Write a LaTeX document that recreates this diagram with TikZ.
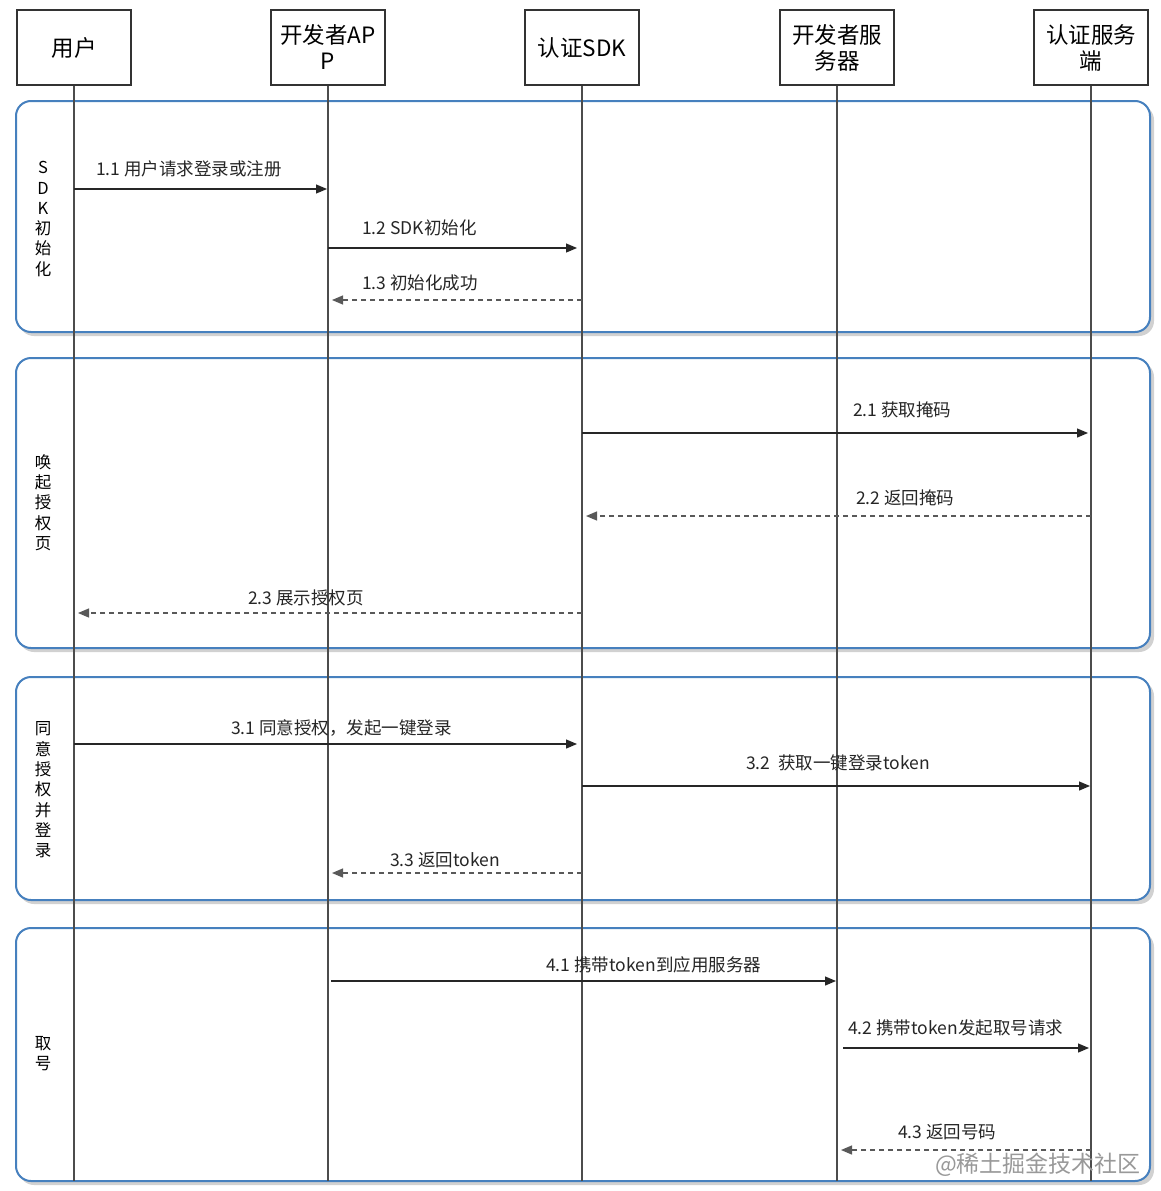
\documentclass[tikz,border=0pt]{standalone}
\usepackage{fontspec}
\setmainfont{Noto Sans CJK SC}
\usetikzlibrary{arrows.meta,positioning}
\definecolor{framecol}{RGB}{70,128,190}

\begin{document}
\begin{tikzpicture}[
        x=1pt, y=-1pt,
        actor/.style={draw=black!80, line width=1.6pt, fill=white, minimum width=114pt, minimum height=75pt, inner sep=0pt, align=center, font=\fontsize{22.5}{26}\selectfont},
        phase/.style={draw=framecol, line width=2pt, rounded corners=15pt, fill=white},
        phaseshadow/.style={fill=black!18, rounded corners=15pt},
        side/.style={align=center, inner sep=0pt, font=\fontsize{16.5}{20.3}\selectfont},
        life/.style={draw=black!70, line width=1.1pt},
        msg/.style={draw=black!85, line width=1.2pt, -{Triangle[length=11pt,width=9pt]}, shorten >=1pt},
        ret/.style={msg, draw=black!65, dash pattern=on 5pt off 4pt, shorten >=4pt},
        lbl/.style={anchor=west, inner sep=0pt, text=black!85, font=\fontsize{17.5}{20}\selectfont}
    ]
    \useasboundingbox (0,0) rectangle (1160,1191);

    % Frames
    \foreach \top/\bot in {101/332, 358/648, 677/900, 928/1181} {
        \fill[phaseshadow] (19,\top+4) rectangle (1154,\bot+4);
        \draw[phase] (16,\top) rectangle (1150,\bot);
    }

    % Nodes
    \node[actor] (user) at (74,47.5) {用户};
    \node[actor] (app) at (328,47.5) {开发者AP\\P};
    \node[actor] (sdk) at (582,47.5) {认证SDK};
    \node[actor] (dev) at (837,47.5) {开发者服\\务器};
    \node[actor] (auth) at (1091,47.5) {认证服务\\端};

    % Lifelines
    \coordinate (end) at (0,1181);
    \foreach \who in {user, app, sdk, dev, auth}
        \draw[life] (\who.south) -- (\who.south |- end);

    % Phase titles
    \node[side] (p1) at (43,219) {S\\D\\K\\初\\始\\化};
    \node[side] (p2) at (43,502.5) {唤\\起\\授\\权\\页};
    \node[side] (p3) at (43,790) {同\\意\\授\\权\\并\\登\\录};
    \node[side] (p4) at (43,1053.5) {取\\号};

    % Messages
    \coordinate (r11) at (0,189);
    \coordinate (r12) at (0,248);
    \coordinate (r13) at (0,300);
    \coordinate (r21) at (0,433);
    \coordinate (r22) at (0,516);
    \coordinate (r23) at (0,613);
    \coordinate (r31) at (0,744);
    \coordinate (r32) at (0,786);
    \coordinate (r33) at (0,873);
    \coordinate (r41) at (0,981);
    \coordinate (r42) at (0,1048);
    \coordinate (r43) at (0,1150);

    \draw[msg] (user |- r11) -- (app |- r11);
    \draw[msg, shorten >=5pt] (app |- r12) -- (sdk |- r12);
    \draw[ret] (sdk |- r13) -- (app |- r13);
    \draw[msg, shorten >=3pt] (sdk |- r21) -- (auth |- r21);
    \draw[ret] (auth |- r22) -- (sdk |- r22);
    \draw[ret] (sdk |- r23) -- (user |- r23);
    \draw[msg, shorten >=5pt] (user |- r31) -- (sdk |- r31);
    \draw[msg] (sdk |- r32) -- (auth |- r32);
    \draw[ret] (sdk |- r33) -- (app |- r33);
    \draw[msg, shorten <=3pt] (app |- r41) -- (dev |- r41);
    \draw[msg, shorten <=6pt, shorten >=2pt] (dev |- r42) -- (auth |- r42);
    \draw[ret] (auth |- r43) -- (dev |- r43);

    % Labels
    \node[lbl] (l11) at (96,169) {1.1 用户请求登录或注册};
    \node[lbl] (l12) at (362,228) {1.2 SDK初始化};
    \node[lbl] (l13) at (362,283) {1.3 初始化成功};
    \node[lbl] (l21) at (853,410) {2.1 获取掩码};
    \node[lbl] (l22) at (856,498) {2.2 返回掩码};
    \node[lbl] (l23) at (248,598) {2.3 展示授权页};
    \node[lbl] (l31) at (231,728) {3.1 同意授权，发起一键登录};
    \node[lbl] (l32) at (746,763) {3.2~ 获取一键登录token};
    \node[lbl] (l33) at (390,860) {3.3 返回token};
    \node[lbl] (l41) at (546,965) {4.1 携带token到应用服务器};
    \node[lbl] (l42) at (848,1028) {4.2 携带token发起取号请求};
    \node[lbl] (l43) at (898,1132) {4.3 返回号码};

    \node[anchor=east, inner sep=0pt, text=black!40, font=\fontsize{23}{26}\selectfont] (mark) at (1141,1165) {@稀土掘金技术社区};
    \end{tikzpicture}
\end{document}
